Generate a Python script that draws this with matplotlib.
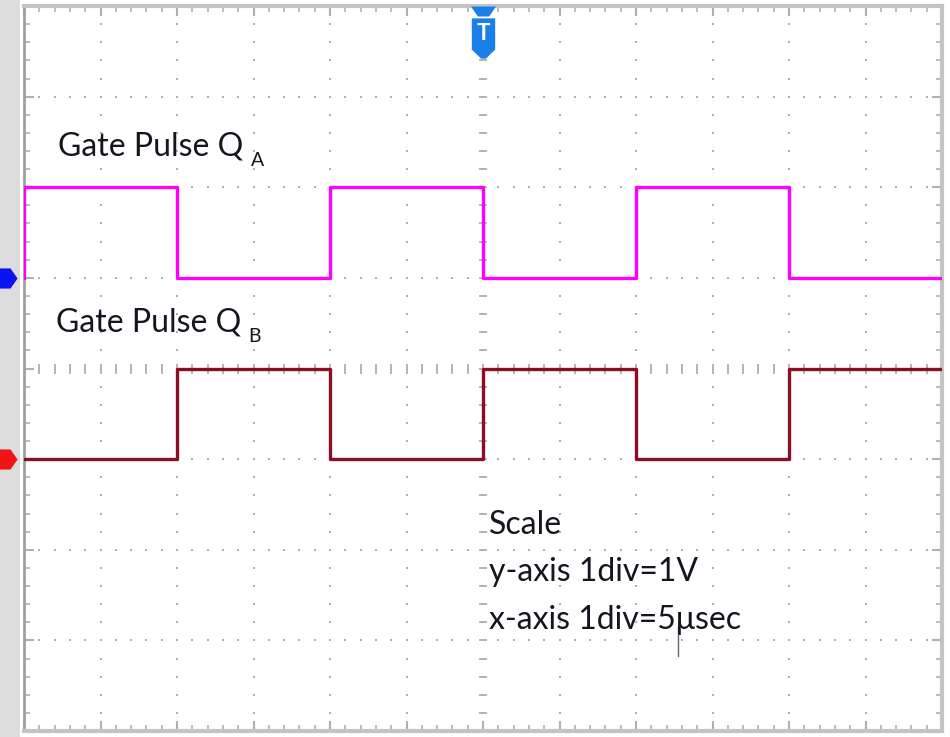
import matplotlib.pyplot as plt
import numpy as np
from matplotlib.transforms import blended_transform_factory

plt.rcParams['font.family'] = ['Lato', 'DejaVu Sans']

# screen: 12 div across, 8 div high
n_xdiv = 12
n_ydiv = 8

# edges of the gate pulses, in divisions (1 div = 5 usec)
qa_time = [0, 0, 2, 4, 6, 8, 10, 12]
qa_level = [5, 6, 5, 6, 5, 6, 5, 5]
qb_time = [0, 2, 4, 6, 8, 10, 12]
qb_level = [3, 4, 3, 4, 3, 4, 4]

# channel ground markers (div)
ch_ground = [5, 3]
ch_colors = ['#0a14f0', '#f01414']

labels = ['Gate Pulse Q', 'Gate Pulse Q']
subs = ['A', 'B']
scale_lines = ['Scale', 'y-axis 1div=1V', 'x-axis 1div=5\u03bcsec']

grid_col = '#b0b0b0'
txt_col = '#15151f'

fig = plt.figure(figsize=(9.5, 7.37), dpi=100)
fig.patch.set_facecolor('white')
ax = fig.add_axes([24 / 950, 1 - 731 / 737, 918 / 950, 725 / 737])
ax.set_xlim(0, n_xdiv)
ax.set_ylim(0, n_ydiv)

# grey strip on the left
fig.patches.append(plt.Rectangle((0, 0), 20 / 950, 1, transform=fig.transFigure,
                                 facecolor='#dcdcdc', edgecolor='none', zorder=-1))

for s in ax.spines.values():
    s.set_color('#c4c4c4')
    s.set_linewidth(3)
ax.spines['left'].set_color('#a0a0a0')
ax.spines['left'].set_linewidth(2)

# dotted graticule
sub_x = np.linspace(0, n_xdiv, n_xdiv * 5 + 1)
sub_y = np.linspace(0, n_ydiv, n_ydiv * 5 + 1)
for xv in range(1, n_xdiv):
    ax.plot(np.full_like(sub_y, xv), sub_y, ls='none', marker='s', ms=1.7,
            color=grid_col, mew=0)
for yv in range(1, n_ydiv):
    ax.plot(sub_x, np.full_like(sub_x, yv), ls='none', marker='s', ms=1.7,
            color=grid_col, mew=0)

# center line tick marks
ax.plot(np.full_like(sub_y, n_xdiv / 2), sub_y, ls='none', marker='_', ms=6,
        mew=1.3, color=grid_col)
ax.plot(sub_x, np.full_like(sub_x, n_ydiv / 2), ls='none', marker='|', ms=7,
        mew=1.3, color=grid_col)

ax.set_xticks(range(n_xdiv + 1))
ax.set_yticks(range(n_ydiv + 1))
ax.set_xticks(sub_x, minor=True)
ax.set_yticks(sub_y, minor=True)
ax.tick_params(which='both', direction='in', top=True, right=True,
               labelbottom=False, labelleft=False, color=grid_col)
ax.tick_params(which='major', length=7, width=1.5)
ax.tick_params(which='minor', length=4, width=1.2)

# traces
ax.step(qa_time, qa_level, where='post', color='#ff00ff', lw=2.4, zorder=5)
ax.step(qb_time, qb_level, where='post', color='#8b0f22', lw=2.4, zorder=5)

# ground markers on the left edge
gnd_shape = [(-0.9, 1), (0.2, 1), (0.9, 0), (0.2, -1), (-0.9, -1), (-0.9, 1)]
tr = blended_transform_factory(fig.transFigure, ax.transData)
for g, c in zip(ch_ground, ch_colors):
    ax.plot([8 / 950], [g], marker=gnd_shape, ms=14.5, color=c, mew=0,
            transform=tr, clip_on=False, zorder=6)

# trigger marker
tt = blended_transform_factory(ax.transData, fig.transFigure)
trig_col = '#1a7fe6'
top_shape = [(-1, 0.4), (1, 0.4), (0.45, -0.4), (-0.45, -0.4), (-1, 0.4)]
body_shape = [(-0.58, 1), (0.58, 1), (0.58, -0.55), (0.12, -1), (-0.12, -1),
              (-0.58, -0.55), (-0.58, 1)]
ax.plot([n_xdiv / 2], [1 - 11 / 737], marker=top_shape, ms=18, mew=0,
        color=trig_col, transform=tt, clip_on=False, zorder=7)
ax.plot([n_xdiv / 2], [1 - 38 / 737], marker=body_shape, ms=29, mew=0,
        color=trig_col, transform=tt, clip_on=False, zorder=7)
ax.text(n_xdiv / 2, 1 - 34 / 737, 'T', transform=tt, ha='center', va='center',
        color='white', fontsize=16, fontweight='bold', zorder=8)

# labels
for lab, sub, (lx, ly) in zip(labels, subs, [(0.45, 6.35), (0.42, 4.41)]):
    t = ax.text(lx, ly, lab, fontsize=23, color=txt_col)
    ax.annotate(sub, xy=(1, 0), xycoords=t, xytext=(5, -3),
                textcoords='offset points', va='baseline', fontsize=14,
                color=txt_col)
for i, line in enumerate(scale_lines):
    ax.text(6.08, 2.17 - i * 0.52, line, fontsize=23, color=txt_col)

# caret
ax.plot([8.55, 8.55], [0.83, 1.16], color='#666666', lw=1)

fig.savefig('out.png', dpi=100)
